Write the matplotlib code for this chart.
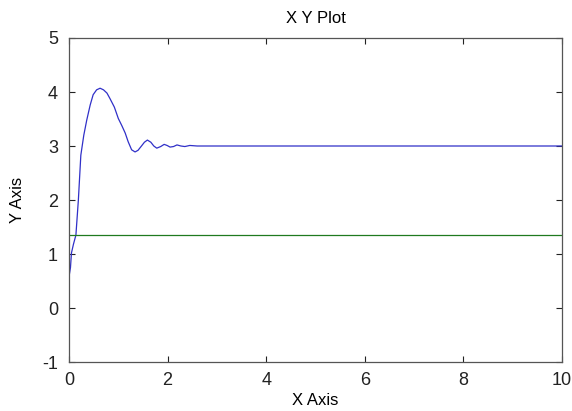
import matplotlib
matplotlib.use("Agg")
import matplotlib.pyplot as plt

plt.rcParams['font.family'] = ['Liberation Sans', 'DejaVu Sans']
plt.rcParams['axes.unicode_minus'] = False

# step response
t = [0.0, 0.03, 0.05, 0.09, 0.14, 0.19, 0.24, 0.30, 0.36, 0.43, 0.49, 0.56, 0.63,
     0.70, 0.77, 0.83, 0.92, 1.00, 1.07, 1.14, 1.20, 1.27, 1.34, 1.40, 1.47,
     1.53, 1.59, 1.66, 1.72, 1.78, 1.86, 1.93, 1.99, 2.05, 2.12, 2.19, 2.27,
     2.35, 2.45, 2.6, 3.0, 5.0, 7.0, 10.0]
y = [0.58, 0.75, 1.02, 1.18, 1.35, 2.0, 2.83, 3.20, 3.48, 3.76, 3.95, 4.04, 4.07,
     4.04, 3.98, 3.88, 3.72, 3.51, 3.38, 3.24, 3.08, 2.93, 2.89, 2.92, 3.00,
     3.07, 3.11, 3.07, 3.00, 2.96, 2.99, 3.03, 3.01, 2.98, 2.99, 3.02, 3.00,
     2.99, 3.01, 3.00, 3.00, 3.00, 3.00, 3.00]

ref_x = [0.0, 10.0]
ref_y = [1.35, 1.35]

fig = plt.figure(figsize=(5.72, 4.11), dpi=100)
ax = fig.add_axes([69 / 572, 1 - 362 / 411, 493 / 572, 324 / 411])

ax.plot(t, y, color='#3030c8', lw=0.9)
ax.plot(ref_x, ref_y, color='#1f7a1f', lw=0.9)

ax.set_xlim(0, 10)
ax.set_ylim(-1, 5)
ax.set_xticks([0, 2, 4, 6, 8, 10])
ax.set_yticks([-1, 0, 1, 2, 3, 4, 5])
ax.tick_params(direction='in', top=True, right=True, length=4, width=0.8,
               labelsize=13, colors='#222222')
ax.tick_params(axis='x', pad=7)
ax.tick_params(axis='y', pad=8)
for s in ax.spines.values():
    s.set_color('#555555')
    s.set_linewidth(0.9)

ax.set_title('X Y Plot', fontsize=12, pad=11)
ax.set_xlabel('X Axis', fontsize=12, labelpad=3)
ax.set_ylabel('Y Axis', fontsize=12, labelpad=12)

fig.savefig('out.png', dpi=100)
